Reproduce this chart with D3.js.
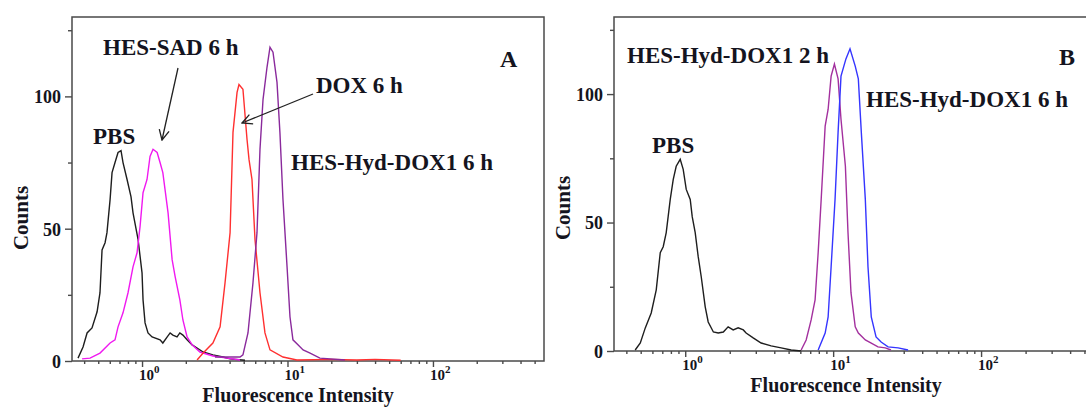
<!DOCTYPE html>
<html><head><meta charset="utf-8">
<script src="https://cdn.jsdelivr.net/npm/d3@7"></script>
<style>
html,body{margin:0;padding:0;background:#fff;}
svg text{font-family:"Liberation Serif","Times New Roman",serif;font-weight:bold;fill:#141420;}
</style></head>
<body><svg id="c" width="1086" height="407"></svg>
<script>
// ---------- data (fluorescence intensity, counts) ----------
const pbsA_x = [0.363,0.393,0.419,0.453,0.491,0.514,0.531,0.557,0.574,0.603,0.622,0.652,0.684,0.717,0.740,0.789,0.840,0.867,0.939,1.0,1.016,1.049,1.099,1.172,1.33,1.39,1.49,1.56,1.63,1.74,1.82,1.91,2.04,2.21,2.39,2.63,3.07,3.60,4.03,5.1];
const pbsA_y = [1.1,5.3,10.6,12.5,18.6,25.8,42,44.7,48.5,61,71.2,75,78.8,79.5,75,68.6,62,56,46,33.3,23.1,14.4,10.6,9.1,8,6.8,9.1,10.6,9.8,9.1,10.6,9.8,8,6.1,4.9,3.4,2.3,1.5,0.8,0.3];
const sadA_x = [0.387,0.439,0.514,0.603,0.652,0.684,0.740,0.801,0.867,0.924,0.969,1.016,1.082,1.135,1.19,1.27,1.33,1.39,1.51,1.61,1.69,1.82,1.91,2.04,2.21,2.50,3.07,3.84,4.72];
const sadA_y = [0.8,1.1,3.0,6.8,8.0,12.9,18.2,25.8,35.6,40.9,50.8,63.6,68.6,77.3,80,78.8,75,71.2,56,38.3,31.8,23.1,15.5,9.1,6.1,3.4,1.9,1.1,0.4];
const doxA_x = [2.39,2.63,3.07,3.44,3.72,4.03,4.22,4.50,4.64,4.94,5.27,5.44,5.70,5.98,6.47,7.00,7.58,9.31,11.6,20,30,40,60];
const doxA_y = [0.4,3,6.8,12.9,29.5,48.5,86.4,101.5,104.5,102.7,83.7,76.1,68.6,45.8,25.8,10.6,4.2,1.5,0.4,0.6,0.4,0.6,0.3];
const hyd6A_x = [3.17,4.72,4.94,5.35,5.79,6.17,6.47,6.79,7.23,7.58,7.95,8.47,8.87,9.31,9.93,10.4,10.9,11.8,12.8,14.3,16.7,24.8];
const hyd6A_y = [1.5,1.5,2.3,10.6,29.5,48.5,80,98.9,111,118.6,116.7,105.3,86.4,61,35.6,16.7,8,6.1,4.2,3,1.1,0.4];

const pbsB_x = [0.459,0.497,0.537,0.589,0.637,0.678,0.710,0.744,0.792,0.830,0.869,0.925,0.969,1.016,1.081,1.115,1.168,1.224,1.283,1.365,1.43,1.55,1.67,1.81,1.95,2.11,2.28,2.47,2.58,2.88,3.26,3.81,4.45,5.20,6.08];
const pbsB_y = [0.4,3.1,9,14.8,23.8,38.3,40.6,46.1,59,66.8,71.9,74.6,70.7,62.9,59,52.3,46.1,36.7,28.9,17.2,11.3,7.4,7,7.4,9.4,8.2,9,8.2,7,5.1,3.1,2,1.2,0.4,0];
const hyd2B_x = [6.08,6.57,7.10,7.55,7.92,8.30,8.83,9.25,9.69,10.2,10.8,11.3,12.1,12.6,13.2,14.1,14.8,16.5,18.1,20.1,22.5,24.6];
const hyd2B_y = [0.4,4.3,12.1,19.9,38.3,59,87.5,94.1,107,111.7,105.9,90.2,71.9,46.1,22.7,9.4,7,4.3,3.1,1.6,1.2,0.4];
const hyd6B_x = [7.92,8.83,9.25,9.69,10.3,10.8,11.3,12.2,13.0,14.1,14.8,15.5,16.5,17.2,18.1,19.5,21.1,23.5,27.5,32.1];
const hyd6B_y = [0.4,7,13.3,32.8,59,85.2,107,113.7,117.6,110.9,105.9,85.2,59,32.8,13.3,5.5,3.5,1.6,1.2,0.4];

const xMajor = [1,10,100];
const xMinor = [0.4,0.5,0.6,0.7,0.8,0.9,2,3,4,5,6,7,8,9,20,30,40,50,60,70,80,90,200,300,400,500];
const yMajor = [0,50,100];
const yMinor = [25,75,125];
const xDomain = [0.33,580];
const yDomain = [0,130];

// ---------- drawing ----------
const svg = d3.select("#c");
const defs = svg.append("defs");
defs.append("marker").attr("id","arr").attr("viewBox","0 0 12 12").attr("refX",11).attr("refY",6)
  .attr("markerWidth",12).attr("markerHeight",12).attr("markerUnits","userSpaceOnUse").attr("orient","auto")
  .append("path").attr("d","M1,1 L11,6 L1,11").attr("fill","none").attr("stroke","#222").attr("stroke-width",1.3);

function panel(cfg){
  const x = d3.scaleLog().domain(xDomain).range([cfg.x0,cfg.x1]);
  const y = d3.scaleLinear().domain(yDomain).range([cfg.y1,cfg.y0]);
  const g = svg.append("g");
  g.append("rect").attr("x",cfg.x0).attr("y",cfg.y0).attr("width",cfg.x1-cfg.x0).attr("height",cfg.y1-cfg.y0)
    .attr("fill","none").attr("stroke","#4a4a4a").attr("stroke-width",1.5);
  const line = d3.line().x(d=>x(d[0])).y(d=>y(d[1]));
  cfg.series.forEach(s=>{
    const pts = s.xs.map((v,i)=>[v,s.ys[i]]);
    g.append("path").attr("d",line(pts)).attr("fill","none").attr("stroke",s.color).attr("stroke-width",1.4);
  });
  const axStyle = sel=>{sel.selectAll("path").remove(); sel.selectAll("line").attr("stroke","#4a4a4a").attr("stroke-width",1.4);};
  g.append("g").attr("transform",`translate(0,${cfg.y1})`)
    .call(d3.axisBottom(x).tickValues(xMajor).tickSize(6).tickFormat("")).call(axStyle);
  g.append("g").attr("transform",`translate(0,${cfg.y1})`)
    .call(d3.axisBottom(x).tickValues(xMinor.filter(v=>v>xDomain[0]&&v<xDomain[1])).tickSize(3).tickFormat("")).call(axStyle);
  xMajor.forEach((v,i)=>{
    const t = g.append("text").attr("x",x(v)-3).attr("y",cfg.y1+19).attr("font-size",15);
    t.append("tspan").text("10");
    t.append("tspan").attr("font-size",11).attr("dy",-7).text(String(i));
  });
  g.append("g").attr("transform",`translate(${cfg.x0},0)`)
    .call(d3.axisLeft(y).tickValues(yMajor).tickSize(7).tickPadding(4)).call(axStyle)
    .selectAll("text").attr("font-size",18).attr("font-family","Liberation Serif").attr("font-weight","bold").attr("fill","#141420").attr("dy","0.35em");
  g.append("g").attr("transform",`translate(${cfg.x0},0)`)
    .call(d3.axisLeft(y).tickValues(yMinor).tickSize(4).tickFormat("")).call(axStyle);
  g.append("text").attr("x",cfg.xTitleX).attr("y",cfg.y1+41).attr("text-anchor","middle").attr("font-size",20).text("Fluorescence Intensity");
  g.append("text").attr("transform",`translate(${cfg.yTitleX},${cfg.yTitleY}) rotate(-90)`).attr("text-anchor","middle").attr("font-size",21).text("Counts");
  cfg.labels.forEach(l=>{
    g.append("text").attr("x",l.x).attr("y",l.y).attr("font-size",l.size||23).text(l.t);
  });
  (cfg.arrows||[]).forEach(a=>{
    g.append("line").attr("x1",a[0]).attr("y1",a[1]).attr("x2",a[2]).attr("y2",a[3])
      .attr("stroke","#222").attr("stroke-width",1.3).attr("marker-end","url(#arr)");
  });
}

panel({x0:72,x1:544,y0:17,y1:361,xTitleX:298,yTitleX:28,yTitleY:218,
  series:[
    {xs:pbsA_x,ys:pbsA_y,color:"#1e1e1e"},
    {xs:sadA_x,ys:sadA_y,color:"#f019f0"},
    {xs:doxA_x,ys:doxA_y,color:"#ff3030"},
    {xs:hyd6A_x,ys:hyd6A_y,color:"#8a2a9c"}],
  labels:[
    {t:"HES-SAD 6 h",x:103,y:55},
    {t:"PBS",x:93,y:144},
    {t:"DOX 6 h",x:316,y:93},
    {t:"HES-Hyd-DOX1 6 h",x:291,y:170},
    {t:"A",x:500,y:67,size:24}],
  arrows:[[178,68,162,140],[313,94,242,123]]
});
panel({x0:614,x1:1094,y0:17,y1:351,xTitleX:846,yTitleX:570,yTitleY:208,
  series:[
    {xs:pbsB_x,ys:pbsB_y,color:"#1e1e1e"},
    {xs:hyd2B_x,ys:hyd2B_y,color:"#a3309e"},
    {xs:hyd6B_x,ys:hyd6B_y,color:"#3535ff"}],
  labels:[
    {t:"HES-Hyd-DOX1 2 h",x:627,y:63},
    {t:"PBS",x:652,y:153},
    {t:"HES-Hyd-DOX1 6 h",x:866,y:107},
    {t:"B",x:1059,y:65,size:24}]
});
</script></body></html>
